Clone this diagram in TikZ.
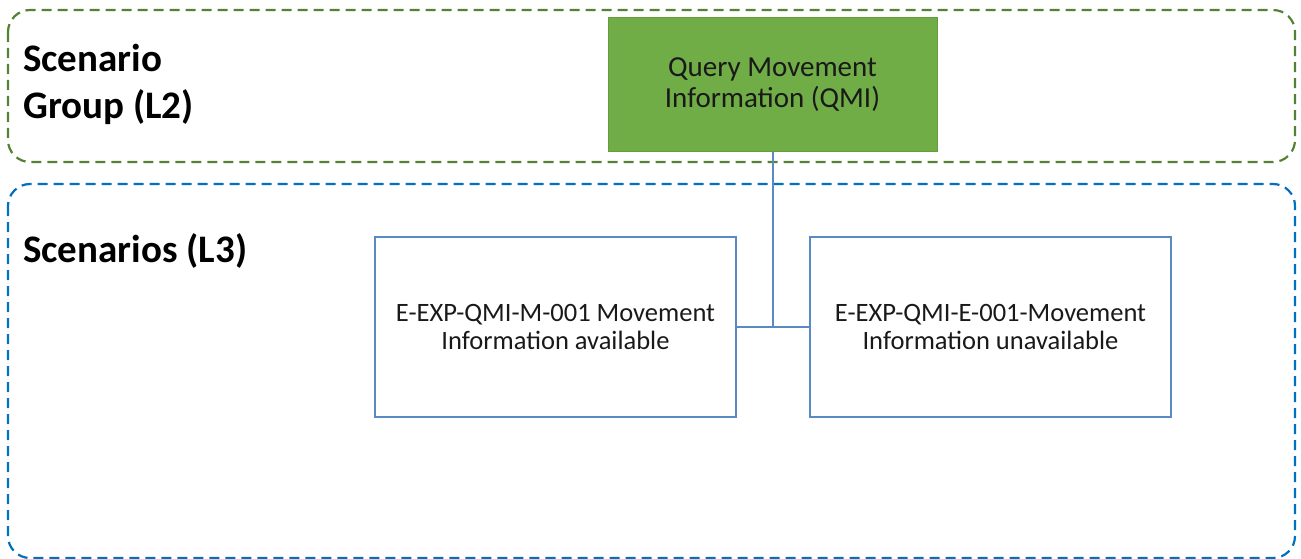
\documentclass[tikz,border=0pt]{standalone}
\usepackage{fontspec}
\setmainfont{Carlito}
\definecolor{grpgreen}{HTML}{548235}
\definecolor{scnblue}{HTML}{0070C0}
\definecolor{boxblue}{HTML}{5B89C4}
\definecolor{fillgreen}{HTML}{70AD47}
\tikzset{
  grouparea/.style={line width=2.2pt, rounded corners=22pt, dash pattern=on 10pt off 6pt},
  lvllabel/.style={anchor=north west, align=left, font=\fontsize{39}{47}\selectfont\bfseries, inner sep=0pt},
  qmibox/.style={fill=fillgreen, draw=fillgreen!90!black, line width=1pt, minimum width=329pt, minimum height=134pt, align=center, font=\fontsize{29}{31}\selectfont, text=black!90, inner sep=0pt},
  scnbox/.style={draw=boxblue, line width=2pt, minimum width=361pt, minimum height=180pt, align=center, font=\fontsize{26.5}{28}\selectfont, text=black!90, inner sep=0pt},
  link/.style={draw=boxblue, line width=2pt}
}
\begin{document}
\begin{tikzpicture}[x=1pt,y=-1pt]
\useasboundingbox (0,0) rectangle (1301,559);
\draw[grouparea, grpgreen] (8,10) rectangle (1295,162);
\draw[grouparea, scnblue] (8,184) rectangle (1295,558);
\node[lvllabel] (l2) at (23,44) {Scenario\\Group (L2)};
\node[lvllabel] (l3) at (23,233) {Scenarios (L3)};
\node[qmibox] (q) at (772.5,85) {Query Movement\\Information (QMI)};
\node[scnbox] (m) at (555.5,327) {E-EXP-QMI-M-001 Movement\\Information available};
\node[scnbox] (e) at (990.5,327) {E-EXP-QMI-E-001-Movement\\Information unavailable};
\coordinate (j) at (q.south |- m.east);
\draw[link] (q.south) -- (j);
\draw[link] (m.east) -- (e.west);
\end{tikzpicture}
\end{document}
